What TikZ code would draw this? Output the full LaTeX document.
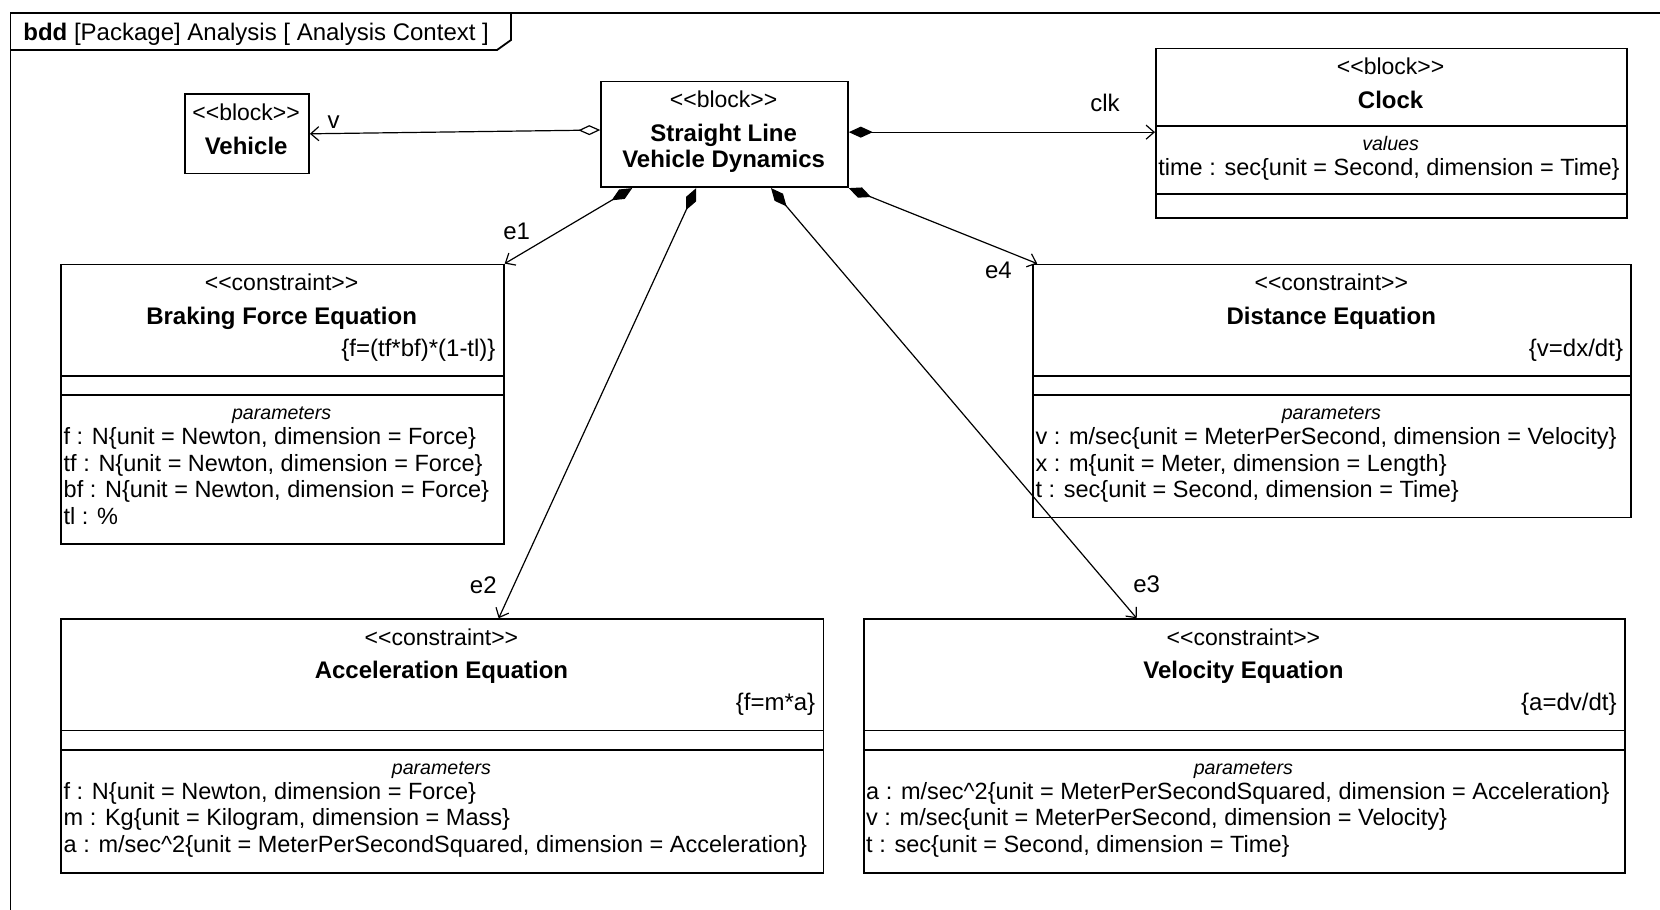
\documentclass[tikz,border=0pt]{standalone}
\usepackage{fontspec}
\setmainfont{Liberation Sans}
\usetikzlibrary{arrows.meta,calc}

% stereotype brackets; the kerns keep << and >> from turning into guillemets
\newcommand\stereo[1]{<\kern0pt<#1>\kern0pt>}

\tikzset{
  boxst/.style={draw, line width=0.9pt, inner sep=0pt, anchor=north west},
  divst/.style={line width=0.9pt},
  framest/.style={line width=0.9pt},
  stereost/.style={anchor=base, inner sep=0pt, font=\fontsize{11.5}{13}\selectfont},
  titlest/.style={anchor=base, inner sep=0pt, font=\fontsize{12}{13}\selectfont\bfseries},
  formst/.style={anchor=base east, inner sep=0pt, font=\fontsize{12}{13}\selectfont},
  secst/.style={anchor=base, inner sep=0pt, font=\fontsize{9.8}{11}\selectfont\itshape},
  linest/.style={anchor=base west, inner sep=0pt, font=\fontsize{11.75}{13}\selectfont},
  lbl/.style={inner sep=0pt, font=\fontsize{12}{13}\selectfont},
  conn/.style={draw, line width=0.6pt},
  comp/.style={conn, {Diamond[length=12pt,width=5.5pt]}-{Straight Barb[length=4pt,width=7pt]}},
  aggr/.style={conn, {Diamond[open,length=11pt,width=5pt]}-{Straight Barb[length=4pt,width=7pt]}},
}

% constraint block: name, x1, y1, x2, y2, title, formula, parameter lines
\newcommand\cbox[8]{%
  \pgfmathsetmacro\bw{#4-#2}%
  \pgfmathsetmacro\bh{#5-#3}%
  \begin{scope}[shift={(#2,#3)}]
    \node[boxst, minimum width=\bw*0.5pt, minimum height=\bh*0.5pt] (#1) at (0,0) {};
    \draw[divst] (0,112.2) -- (\bw,112.2) (0,131.3) -- (\bw,131.3);
    \node[stereost] (#1-st) at (\bw/2,27) {\stereo{constraint}};
    \node[titlest] (#1-ti) at (\bw/2,60.5) {#6};
    \node[formst] (#1-fo) at (\bw-7,92.5) {#7};
    \node[secst] (#1-se) at (\bw/2,156) {parameters};
    \foreach \pline [count=\i from 0] in {#8}
      \node[linest] (#1-p\i) at (3,181+26.5*\i) {\pline};
  \end{scope}}

\begin{document}
\begin{tikzpicture}[x=0.5pt,y=-0.5pt]
  \useasboundingbox (0,0) rectangle (1660,910);
  \fill[white] (0,0) rectangle (1660,910);

  % diagram frame and its header tab
  \draw[framest] (10.5,910) -- (10.5,12.7) -- (1660,12.7);
  \draw[framest] (10.5,50) -- (497,50) -- (511,40) -- (511,12.7);
  \node[lbl, anchor=base west] (hdr) at (23,40)
    {\textbf{bdd} [Package] Analysis [ Analysis Context ]};

  % Vehicle
  \node[boxst, minimum width=61.95pt, minimum height=39.7pt] (veh) at (184.2,93.2) {};
  \node[stereost] (veh-st) at (246.15,120) {\stereo{block}};
  \node[titlest] (veh-ti) at (246.15,154.5) {Vehicle};

  % Straight Line Vehicle Dynamics
  \node[boxst, minimum width=123.35pt, minimum height=52.9pt] (slvd) at (600.3,80.5) {};
  \node[stereost] (slvd-st) at (723.65,107.5) {\stereo{block}};
  \node[titlest] (slvd-t1) at (723.65,141) {Straight Line};
  \node[titlest] (slvd-t2) at (723.65,167.5) {Vehicle Dynamics};

  % Clock
  \node[boxst, minimum width=235.6pt, minimum height=84.7pt] (clock) at (1155,47.6) {};
  \draw[divst] (1155,126) -- (1626.2,126) (1155,193.7) -- (1626.2,193.7);
  \node[stereost] (clock-st) at (1390.6,74.7) {\stereo{block}};
  \node[titlest] (clock-ti) at (1390.6,108) {Clock};
  \node[secst] (clock-se) at (1390.6,150.5) {values};
  \node[linest] (clock-p0) at (1158,175.5) {time : sec\{unit = Second, dimension = Time\}};

  % constraint blocks
  \cbox{brk}{60.3}{263.6}{502.9}{543.1}{Braking Force Equation}{\{f=(tf*bf)*(1-tl)\}}%
    {{f : N\{unit = Newton, dimension = Force\}},{tf : N\{unit = Newton, dimension = Force\}},{bf : N\{unit = Newton, dimension = Force\}},{tl : \%}}
  \cbox{dist}{1032.2}{263.6}{1630.4}{516.6}{Distance Equation}{\{v=dx/dt\}}%
    {{v : m/sec\{unit = MeterPerSecond, dimension = Velocity\}},{x : m\{unit = Meter, dimension = Length\}},{t : sec\{unit = Second, dimension = Time\}}}
  \cbox{acc}{60.3}{618.3}{822.6}{872.4}{Acceleration Equation}{\{f=m*a\}}%
    {{f : N\{unit = Newton, dimension = Force\}},{m : Kg\{unit = Kilogram, dimension = Mass\}},{a : m/sec\textasciicircum 2\{unit = MeterPerSecondSquared, dimension = Acceleration\}}}
  \cbox{vel}{862.8}{618.3}{1624}{872.4}{Velocity Equation}{\{a=dv/dt\}}%
    {{a : m/sec\textasciicircum 2\{unit = MeterPerSecondSquared, dimension = Acceleration\}},{v : m/sec\{unit = MeterPerSecond, dimension = Velocity\}},{t : sec\{unit = Second, dimension = Time\}}}

  % associations
  \coordinate (vs) at ($(slvd.north west)!0.46!(slvd.south west)$);
  \draw[aggr] (vs) -- (veh.east);
  \coordinate (cs) at ($(slvd.north east)!0.48!(slvd.south east)$);
  \draw[comp] (cs) -- (cs -| clock.west);
  \draw[comp] ($(slvd.south west)!0.1285!(slvd.south east)$) -- (brk.north east);
  \draw[comp] ($(slvd.south west)!0.386!(slvd.south east)$) -- ($(acc.north west)!0.5737!(acc.north east)$);
  \draw[comp] ($(slvd.south west)!0.687!(slvd.south east)$) -- ($(vel.north west)!0.359!(vel.north east)$);
  \draw[comp] (slvd.south east) -- ($(dist.north west)+(5,0)$);

  % role names
  \node[lbl] (lv) at (333.5,121.7) {v};
  \node[lbl] (lclk) at (1105,102.7) {clk};
  \node[lbl] (le1) at (516.7,231.7) {e1};
  \node[lbl] (le2) at (483.3,585) {e2};
  \node[lbl] (le3) at (1146.6,584.4) {e3};
  \node[lbl] (le4) at (998.4,270) {e4};
\end{tikzpicture}
\end{document}
